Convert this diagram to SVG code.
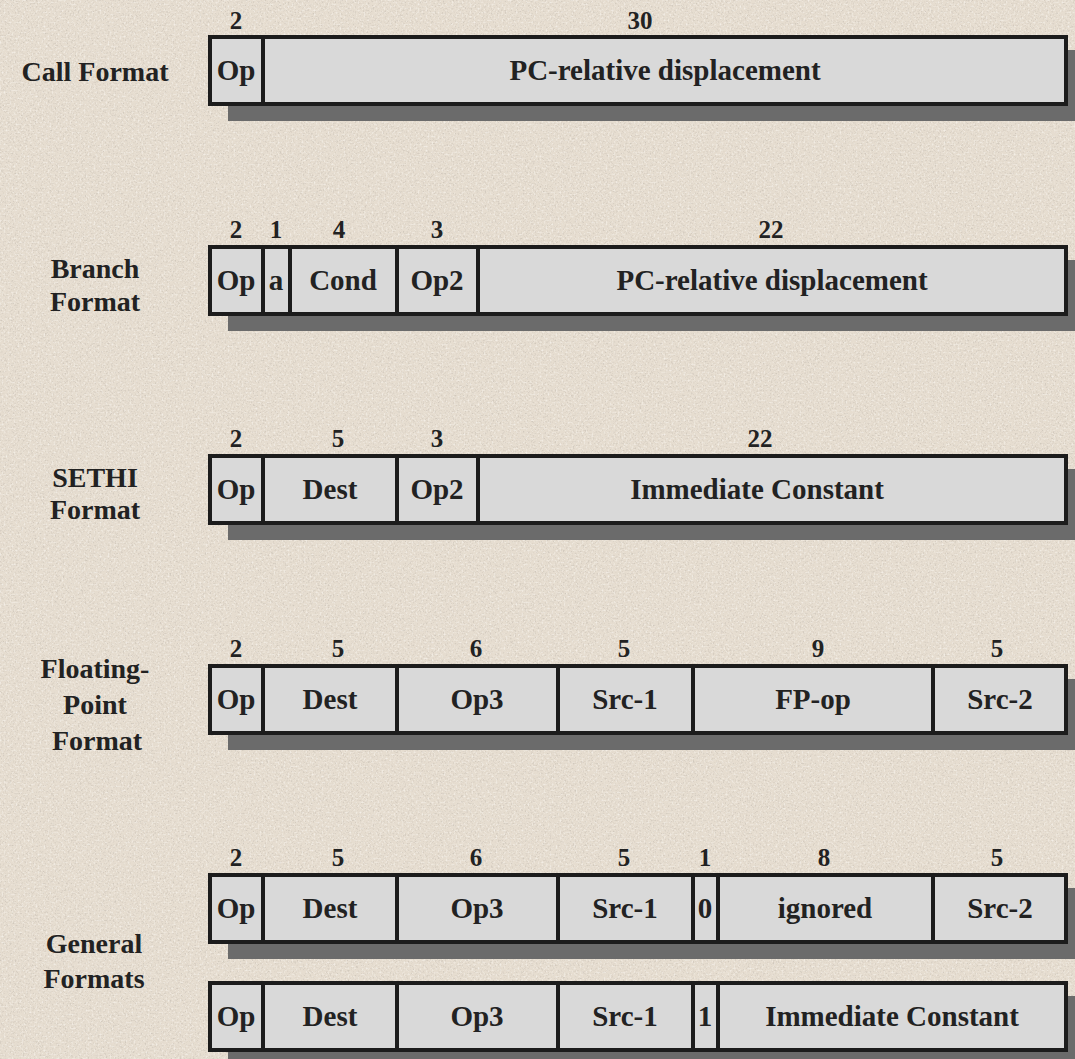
<svg xmlns="http://www.w3.org/2000/svg" width="1075" height="1059" viewBox="0 0 1075 1059">
  <style>
    .field { fill: #d9d9d9; stroke: #1c1c1c; stroke-width: 4; }
    .shadow { fill: #6b6b6b; }
    .div { stroke: #1c1c1c; stroke-width: 4; }
    text { font-family: "Liberation Serif", "Nimbus Roman", "DejaVu Serif", serif; font-weight: 700; fill: #222; text-anchor: middle; }
    .f { font-size: 29px; }
    .n { font-size: 25px; }
    .lbl { font-size: 28px; }
  </style>
  <defs>
    <!-- speckled paper: dark and light flecks from fractal noise -->
    <filter id="grainDark" x="0" y="0" width="100%" height="100%">
      <feTurbulence type="fractalNoise" baseFrequency="0.6" numOctaves="3" seed="7"/>
      <feColorMatrix type="matrix" values="0 0 0 0 0.55  0 0 0 0 0.5  0 0 0 0 0.44  3 0 0 0 -1.55"/>
    </filter>
    <filter id="grainLight" x="0" y="0" width="100%" height="100%">
      <feTurbulence type="fractalNoise" baseFrequency="0.5" numOctaves="3" seed="21"/>
      <feColorMatrix type="matrix" values="0 0 0 0 0.97  0 0 0 0 0.95  0 0 0 0 0.91  3 0 0 0 -1.5"/>
    </filter>
  </defs>

  <!-- paper background -->
  <rect width="1075" height="1059" fill="#e6ddd0"/>
  <rect width="1075" height="1059" filter="url(#grainDark)" opacity="0.6"/>
  <rect width="1075" height="1059" filter="url(#grainLight)" opacity="0.6"/>

  <!-- Call format -->
  <g id="call-format">
    <text class="lbl" x="95" y="81">Call Format</text>
    <rect class="shadow" x="228" y="50" width="860" height="71"/>
    <rect class="field" x="210" y="37" width="856" height="67"/>
    <line class="div" x1="263" y1="37" x2="263" y2="104"/>
    <text class="n" x="236" y="29">2</text>
    <text class="n" x="640" y="29">30</text>
    <text class="f" x="236" y="80">Op</text>
    <text class="f" x="665" y="80">PC-relative displacement</text>
  </g>

  <!-- Branch format -->
  <g id="branch-format">
    <text class="lbl" x="95" y="278">Branch</text>
    <text class="lbl" x="95" y="311">Format</text>
    <rect class="shadow" x="228" y="260" width="860" height="71"/>
    <rect class="field" x="210" y="247" width="856" height="67"/>
    <line class="div" x1="263" y1="247" x2="263" y2="314"/>
    <line class="div" x1="290" y1="247" x2="290" y2="314"/>
    <line class="div" x1="397" y1="247" x2="397" y2="314"/>
    <line class="div" x1="478" y1="247" x2="478" y2="314"/>
    <text class="n" x="236" y="238">2</text>
    <text class="n" x="276" y="238">1</text>
    <text class="n" x="339" y="238">4</text>
    <text class="n" x="437" y="238">3</text>
    <text class="n" x="771" y="238">22</text>
    <text class="f" x="236" y="290">Op</text>
    <text class="f" x="276" y="290">a</text>
    <text class="f" x="343" y="290">Cond</text>
    <text class="f" x="437" y="290">Op2</text>
    <text class="f" x="772" y="290">PC-relative displacement</text>
  </g>

  <!-- SETHI format -->
  <g id="sethi-format">
    <text class="lbl" x="95" y="487">SETHI</text>
    <text class="lbl" x="95" y="519">Format</text>
    <rect class="shadow" x="228" y="469" width="860" height="71"/>
    <rect class="field" x="210" y="456" width="856" height="67"/>
    <line class="div" x1="263" y1="456" x2="263" y2="523"/>
    <line class="div" x1="397" y1="456" x2="397" y2="523"/>
    <line class="div" x1="478" y1="456" x2="478" y2="523"/>
    <text class="n" x="236" y="447">2</text>
    <text class="n" x="338" y="447">5</text>
    <text class="n" x="437" y="447">3</text>
    <text class="n" x="760" y="447">22</text>
    <text class="f" x="236" y="499">Op</text>
    <text class="f" x="330" y="499">Dest</text>
    <text class="f" x="437" y="499">Op2</text>
    <text class="f" x="757" y="499">Immediate Constant</text>
  </g>

  <!-- Floating-point format -->
  <g id="fp-format">
    <text class="lbl" x="95" y="678">Floating-</text>
    <text class="lbl" x="95" y="714">Point</text>
    <text class="lbl" x="97" y="750">Format</text>
    <rect class="shadow" x="228" y="679" width="860" height="71"/>
    <rect class="field" x="210" y="666" width="856" height="67"/>
    <line class="div" x1="263" y1="666" x2="263" y2="733"/>
    <line class="div" x1="397" y1="666" x2="397" y2="733"/>
    <line class="div" x1="558" y1="666" x2="558" y2="733"/>
    <line class="div" x1="693" y1="666" x2="693" y2="733"/>
    <line class="div" x1="933" y1="666" x2="933" y2="733"/>
    <text class="n" x="236" y="657">2</text>
    <text class="n" x="338" y="657">5</text>
    <text class="n" x="476" y="657">6</text>
    <text class="n" x="624" y="657">5</text>
    <text class="n" x="818" y="657">9</text>
    <text class="n" x="997" y="657">5</text>
    <text class="f" x="236" y="709">Op</text>
    <text class="f" x="330" y="709">Dest</text>
    <text class="f" x="477" y="709">Op3</text>
    <text class="f" x="625" y="709">Src-1</text>
    <text class="f" x="813" y="709">FP-op</text>
    <text class="f" x="1000" y="709">Src-2</text>
  </g>

  <!-- General formats -->
  <g id="general-formats">
    <text class="lbl" x="94" y="953">General</text>
    <text class="lbl" x="94" y="988">Formats</text>
  </g>

  <g id="general-reg">
    <rect class="shadow" x="228" y="888" width="860" height="71"/>
    <rect class="field" x="210" y="875" width="856" height="67"/>
    <line class="div" x1="263" y1="875" x2="263" y2="942"/>
    <line class="div" x1="397" y1="875" x2="397" y2="942"/>
    <line class="div" x1="558" y1="875" x2="558" y2="942"/>
    <line class="div" x1="693" y1="875" x2="693" y2="942"/>
    <line class="div" x1="718" y1="875" x2="718" y2="942"/>
    <line class="div" x1="933" y1="875" x2="933" y2="942"/>
    <text class="n" x="236" y="866">2</text>
    <text class="n" x="338" y="866">5</text>
    <text class="n" x="476" y="866">6</text>
    <text class="n" x="624" y="866">5</text>
    <text class="n" x="705" y="866">1</text>
    <text class="n" x="824" y="866">8</text>
    <text class="n" x="997" y="866">5</text>
    <text class="f" x="236" y="918">Op</text>
    <text class="f" x="330" y="918">Dest</text>
    <text class="f" x="477" y="918">Op3</text>
    <text class="f" x="625" y="918">Src-1</text>
    <text class="f" x="705" y="918">0</text>
    <text class="f" x="825" y="918">ignored</text>
    <text class="f" x="1000" y="918">Src-2</text>
  </g>

  <g id="general-imm">
    <rect class="shadow" x="228" y="996" width="860" height="71"/>
    <rect class="field" x="210" y="983" width="856" height="67"/>
    <line class="div" x1="263" y1="983" x2="263" y2="1050"/>
    <line class="div" x1="397" y1="983" x2="397" y2="1050"/>
    <line class="div" x1="558" y1="983" x2="558" y2="1050"/>
    <line class="div" x1="693" y1="983" x2="693" y2="1050"/>
    <line class="div" x1="718" y1="983" x2="718" y2="1050"/>
    <text class="f" x="236" y="1026">Op</text>
    <text class="f" x="330" y="1026">Dest</text>
    <text class="f" x="477" y="1026">Op3</text>
    <text class="f" x="625" y="1026">Src-1</text>
    <text class="f" x="705" y="1026">1</text>
    <text class="f" x="892" y="1026">Immediate Constant</text>
  </g>
</svg>
